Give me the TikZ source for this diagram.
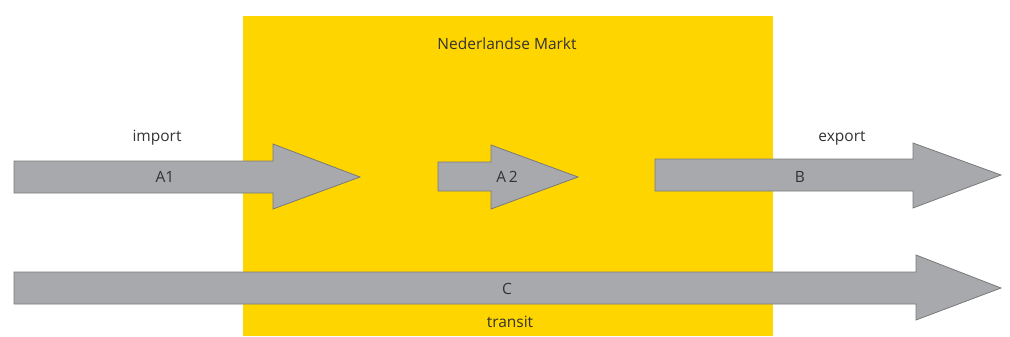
\documentclass[tikz,border=0pt]{standalone}
\usepackage{fontspec}
\setmainfont{Open Sans}
\definecolor{marktyellow}{HTML}{FFD500}
\definecolor{arrowgray}{HTML}{A7A9AC}
\definecolor{edgegray}{HTML}{7A7A7A}
\definecolor{txtgray}{HTML}{333333}
\tikzset{
  flowarrow/.style={fill=arrowgray, draw=edgegray, line width=0.8pt, line join=miter},
  lbl/.style={font=\fontsize{15.5}{18}\selectfont, text=txtgray, inner sep=0pt},
}
\begin{document}
\begin{tikzpicture}[x={(1pt,0)}, y={(0,-1pt)}]
\useasboundingbox (0,0) rectangle (1010,337);
% market box
\fill[marktyellow] (243,16) rectangle (773,336);
\node[lbl] (markt) at (507,44) {Nederlandse Markt};
% A1
\draw[flowarrow] (14,161) -- (273,161) -- (273,144) -- (360,177) -- (273,209) -- (273,193) -- (14,193) -- cycle;
\node[lbl] (a1) at (165,177) {A1};
\node[lbl] (import) at (157,138) {import};
% A2
\draw[flowarrow] (438,162) -- (491,162) -- (491,145) -- (578,177) -- (491,209) -- (491,191) -- (438,191) -- cycle;
\node[lbl] (a2) at (507,177) {A\,2};
% B
\draw[flowarrow] (655,159) -- (913,159) -- (913,143) -- (1001,175) -- (913,208) -- (913,191) -- (655,191) -- cycle;
\node[lbl] (b) at (800,177) {B};
\node[lbl] (export) at (842,138) {export};
% C
\draw[flowarrow] (14,272) -- (916,272) -- (916,255) -- (1001,288) -- (916,320) -- (916,304) -- (14,304) -- cycle;
\node[lbl] (c) at (507,289) {C};
\node[lbl] (transit) at (510,322) {transit};
\end{tikzpicture}
\end{document}
